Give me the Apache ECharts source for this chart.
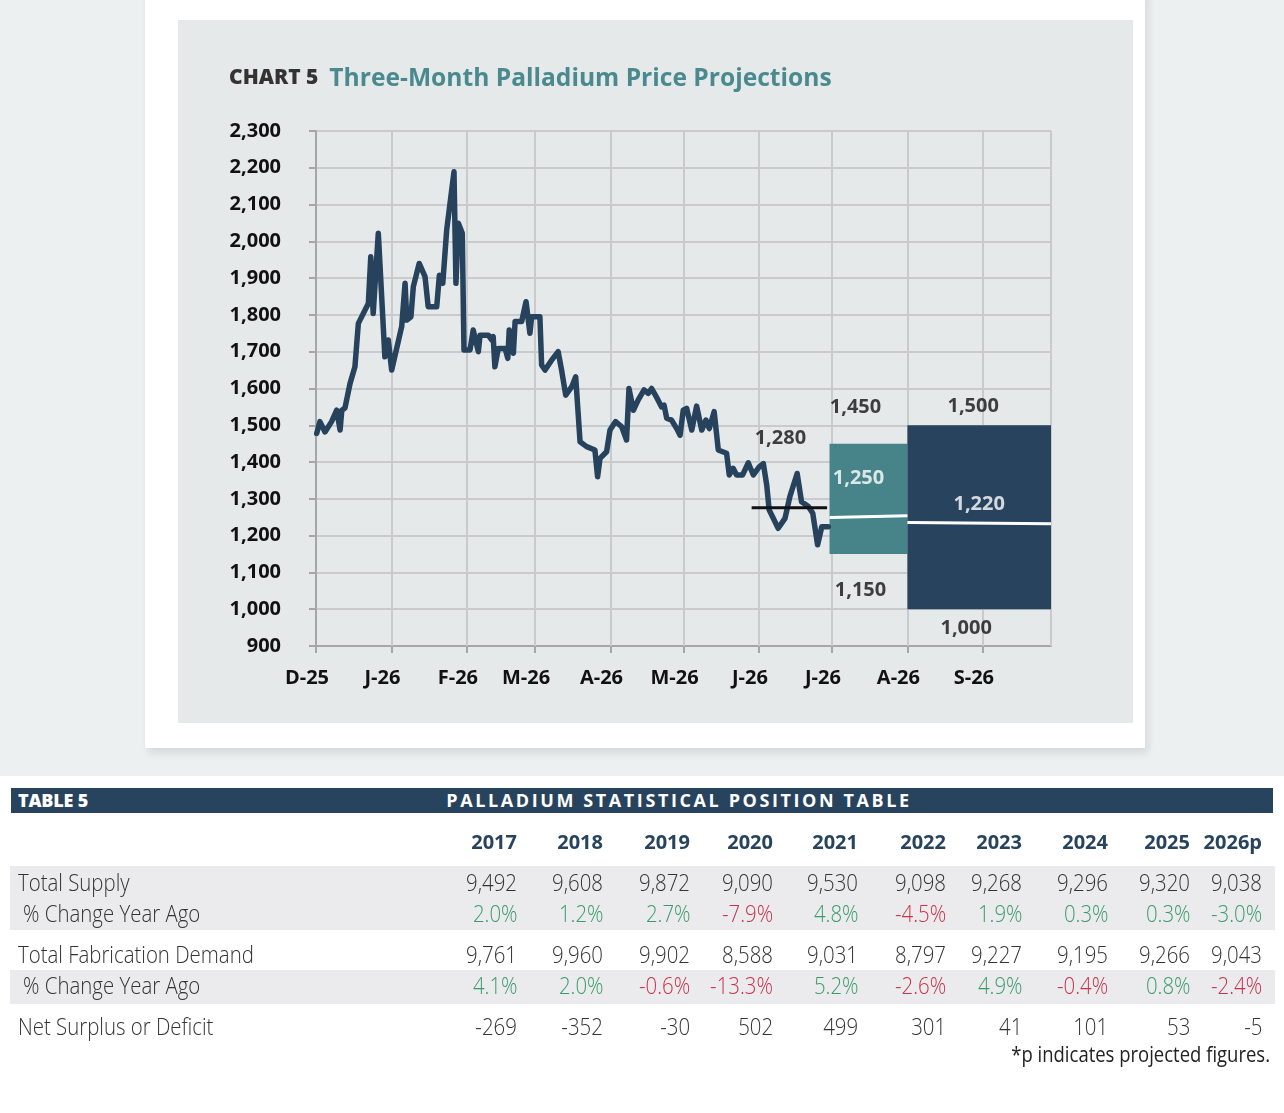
<!DOCTYPE html>
<html>
<head>
<meta charset="utf-8">
<script src="https://cdn.jsdelivr.net/npm/echarts@6/dist/echarts.min.js"></script>
<style>
  html,body{margin:0;padding:0;}
  body{width:1284px;height:1113px;position:relative;background:#ffffff;overflow:hidden;font-family:"Open Sans","Noto Sans",sans-serif;}
  .abs{position:absolute;}
  .t{position:absolute;white-space:nowrap;}
</style>
</head>
<body>
<div class="abs" style="left:0;top:0;width:1284px;height:776px;background:#edf0f1;"></div>
<div class="abs" style="left:145px;top:-10px;width:1000px;height:758px;background:#ffffff;box-shadow:3px 5px 8px rgba(0,0,0,0.10);"></div>
<div class="abs" style="left:178px;top:20px;width:955px;height:703px;background:#e6e9ea;"></div>
<div id="chart" class="abs" style="left:0;top:0;width:1284px;height:776px;"></div>
<div id="table" class="abs" style="left:0;top:0;width:1284px;height:1113px;"></div>
<script>
// ---------- Chart data ----------
const days = [0.3,1.6,3.7,6.4,8.5,9.9,10.6,11.9,14.0,16.0,17.4,21.5,22.5,23.5,25.6,28.3,29.7,31.1,35.2,36.6,37.3,39.0,40.0,42.4,44.8,46.1,49.6,50.7,52.1,53.7,56.7,57.5,58.5,60.1,60.8,63.3,64.6,66.7,67.4,70.8,72.2,72.8,73.5,74.9,77.7,78.8,79.4,81.1,81.8,84.5,86.3,87.9,88.6,92.0,92.7,94.1,96.8,99.5,100.9,102.6,105.1,106.7,108.5,111.2,114.6,115.7,116.7,119.4,120.8,123.1,125.6,127.6,128.6,130.4,132.4,134.8,136.5,137.9,140.2,142.0,143.0,144.1,146.1,148.2,149.6,150.9,152.3,154.4,156.4,158.5,160.2,161.6,163.6,165.3,167.1,168.7,169.8,171.4,172.8,175.3,177.6,179.7,182.1,183.8,185.2,186.2,189.9,192.7,194.7,197.7,199.5,202.3,204.1,206.1,207.8,210.5];
const prices = [1478,1510,1482,1510,1541,1487,1541,1547,1614,1659,1777,1831,1958,1804,2022,1686,1732,1650,1768,1886,1786,1795,1877,1940,1904,1822,1822,1908,1886,2031,2189,1886,2049,2022,1705,1705,1759,1700,1745,1745,1732,1741,1659,1709,1709,1682,1759,1696,1782,1782,1836,1750,1795,1795,1664,1650,1677,1700,1650,1582,1605,1632,1455,1442,1433,1360,1410,1428,1487,1510,1496,1460,1600,1541,1569,1596,1587,1600,1573,1550,1555,1519,1514,1491,1473,1541,1546,1487,1552,1487,1514,1491,1537,1433,1428,1424,1365,1383,1365,1365,1398,1365,1387,1396,1337,1270,1220,1247,1306,1369,1292,1279,1261,1175,1224,1224];

const monthTicks = [0,31,62,90,121,151,182,212,243,274];
const monthLabels = ['D-25','J-26','F-26','M-26','A-26','M-26','J-26','J-26','A-26','S-26'];
const xMax = 302;
const yMin = 900, yMax = 2300, yStep = 100;

// projection boxes
const boxStart = [211, 243];
const boxEnd = [243, 302];
const boxHigh = [1450, 1500];
const boxLow = [1150, 1000];
const boxMidStartVal = [1249, 1236];
const boxMidEndVal = [1254, 1232];
const boxMidLabel = ['1,250', '1,220'];
const boxHighLabel = ['1,450', '1,500'];
const boxLowLabel = ['1,150', '1,000'];
const boxColors = ['#478489', '#27435d'];

// last-price marker
const lastStart = 179, lastEnd = 210, lastLevel = 1276, lastLabel = '1,280';

// ---------- Table data ----------
const years = ['2017','2018','2019','2020','2021','2022','2023','2024','2025','2026p'];
const totalSupply = ['9,492','9,608','9,872','9,090','9,530','9,098','9,268','9,296','9,320','9,038'];
const supplyChange = [2.0,1.2,2.7,-7.9,4.8,-4.5,1.9,0.3,0.3,-3.0];
const fabDemand = ['9,761','9,960','9,902','8,588','9,031','8,797','9,227','9,195','9,266','9,043'];
const demandChange = [4.1,2.0,-0.6,-13.3,5.2,-2.6,4.9,-0.4,0.8,-2.4];
const netSurplus = ['-269','-352','-30','502','499','301','41','101','53','-5'];
// colour flags as printed (green / red)
const supplyChangeUp = [true,true,true,false,true,false,true,true,true,true];
const demandChangeUp = [true,true,false,false,true,false,true,false,true,false];

// ---------- Chart ----------
const chart = echarts.init(document.getElementById('chart'), null, {renderer:'canvas'});
const FONT = '"Open Sans","Noto Sans",sans-serif';
const gridColor = '#c8cacb';

const midX = boxStart.map((s,i)=>(s+boxEnd[i])/2);
const labelPts = [
  {value:[midX[0], boxHigh[0]], t:boxHighLabel[0], c:'#111', off:[-13,-36]},
  {value:[midX[1], boxHigh[1]], t:boxHighLabel[1], c:'#111', off:[-6,-19]},
  {value:[midX[0], boxLow[0]], t:boxLowLabel[0], c:'#111', off:[-8,36]},
  {value:[midX[1], boxLow[1]], t:boxLowLabel[1], c:'#111', off:[-13,19]},
  {value:[midX[0], 1250], t:boxMidLabel[0], c:'#fff', off:[-10,-39]},
  {value:[midX[1], 1220], t:boxMidLabel[1], c:'#fff', off:[0,-24]},
  {value:[(lastStart+lastEnd)/2, 1280], t:lastLabel, c:'#111', off:[-9,-68]}
];

const vLines = monthTicks.slice(1).concat([xMax]).map(v=>({xAxis:v}));

chart.setOption({
  animation:false,
  title:{
    left:224, top:61,
    text:'{a|CHART 5}{b|Three-Month Palladium Price Projections}',
    textStyle:{rich:{
      a:{fontFamily:FONT,fontWeight:800,fontSize:21,color:'#333333',padding:[0,11,0,0]},
      b:{fontFamily:FONT,fontWeight:'bold',fontSize:24.6,color:'#4a8a8e'}
    }}
  },
  grid:{left:316, right:1284-1051, top:131, bottom:776-646, containLabel:false},
  xAxis:{
    type:'value', min:0, max:xMax,
    splitLine:{show:false},
    axisLine:{show:true, lineStyle:{color:'#a4a6a7', width:2}},
    axisTick:{show:true, customValues:monthTicks, length:7, lineStyle:{color:'#a4a6a7', width:2}},
    axisLabel:{
      customValues:monthTicks,
      formatter:(v)=>{const i=monthTicks.indexOf(v); return i>=0?monthLabels[i]:'';},
      fontFamily:FONT, fontWeight:'bold', fontSize:20, color:'#111', margin:22,
      padding:[0,18,0,0]
    }
  },
  yAxis:{
    type:'value', min:yMin, max:yMax, interval:yStep,
    splitLine:{show:true, lineStyle:{color:gridColor, width:2}},
    axisLine:{show:true, lineStyle:{color:'#a4a6a7', width:2}},
    axisTick:{show:true, length:7, lineStyle:{color:'#a4a6a7', width:2}},
    axisLabel:{fontFamily:FONT, fontWeight:'bold', fontSize:20, color:'#111', margin:35,
      formatter:(v)=>v.toLocaleString('en-US')}
  },
  series:[
    {
      type:'line', data:[], z:1, silent:true,
      markLine:{silent:true, symbol:['none','none'], label:{show:false},
        lineStyle:{color:gridColor, width:2, type:'solid'}, data:vLines, animation:false}
    },
    {
      type:'custom', z:10, silent:true,
      data:boxStart.map((s,i)=>[s, boxEnd[i], boxLow[i], boxHigh[i], i]),
      encode:{x:[0,1], y:[2,3]},
      renderItem:(params, api)=>{
        const p1 = api.coord([api.value(0), api.value(3)]);
        const p2 = api.coord([api.value(1), api.value(2)]);
        return {type:'rect', shape:{x:p1[0], y:p1[1], width:p2[0]-p1[0], height:p2[1]-p1[1]},
          style:{fill:boxColors[api.value(4)]}};
      }
    },
    {
      type:'line', z:11, symbol:'none', silent:true,
      data:days.map((d,i)=>[d, prices[i]]),
      lineStyle:{color:'#26425c', width:5.5, join:'round', cap:'round'}
    },
    {
      type:'line', z:12, symbol:'none', silent:true,
      data:[[boxStart[0], boxMidStartVal[0]],[boxEnd[0], boxMidEndVal[0]]],
      lineStyle:{color:'#ffffff', width:3}
    },
    {
      type:'line', z:12, symbol:'none', silent:true,
      data:[[boxStart[1], boxMidStartVal[1]],[boxEnd[1], boxMidEndVal[1]]],
      lineStyle:{color:'#ffffff', width:3}
    },
    {
      type:'line', z:12, symbol:'none', silent:true,
      data:[[lastStart, lastLevel],[lastEnd, lastLevel]],
      lineStyle:{color:'#111111', width:3}
    },
    {
      type:'scatter', z:13, symbolSize:0, silent:true,
      data:labelPts.map(p=>({value:p.value, label:{show:true, position:'inside', formatter:p.t, color:p.c, offset:p.off}})),
      label:{show:true, fontFamily:FONT, fontWeight:'bold', fontSize:20}
    }
  ]
});

// ---------- Table ----------
const tbl = document.getElementById('table');
const colRight = [517,603,690,773,858,946,1022,1108,1190,1262];
function add(html, style){const d=document.createElement('div'); d.className='t'; d.innerHTML=html; Object.assign(d.style, style); tbl.appendChild(d); return d;}
function box(style){const d=document.createElement('div'); d.className='abs'; Object.assign(d.style, style); tbl.appendChild(d);}

box({left:'11px', top:'788px', width:'1262px', height:'25px', background:'#27435d'});
add('TABLE 5', {left:'18px', top:'788px', lineHeight:'25px', fontSize:'18px', fontWeight:'800', color:'#fff', letterSpacing:'-0.2px'});
add('PALLADIUM STATISTICAL POSITION TABLE', {left:'0px', width:'1358px', textAlign:'center', top:'788px', lineHeight:'25px', fontSize:'18px', fontWeight:'bold', color:'#fff', letterSpacing:'2.6px'});

box({left:'10px', top:'866px', width:'1265px', height:'64px', background:'#ebebed'});
box({left:'10px', top:'970px', width:'1265px', height:'34px', background:'#ebebed'});

const SX = 'scaleX(0.85)';
function rowText(center, label, indent, values, colors){
  const lh = 32;
  add(label, {left:(18+indent)+'px', top:(center-lh/2)+'px', lineHeight:lh+'px', fontSize:'24px', fontWeight:'300', color:'#333', transform:SX, transformOrigin:'left center'});
  values.forEach((v,i)=>{
    add(v, {right:(1284-colRight[i])+'px', top:(center-lh/2)+'px', lineHeight:lh+'px', fontSize:'24px', fontWeight:'300', color:colors?colors[i]:'#333', transform:SX, transformOrigin:'right center'});
  });
}
years.forEach((y,i)=>{
  add(y, {right:(1284-colRight[i])+'px', top:'827px', lineHeight:'30px', fontSize:'20px', fontWeight:'bold', color:'#27435d'});
});
const GREEN = '#3a9c6c', RED = '#c8324b';
const fmtPct = v => v.toFixed(1)+'%';
rowText(882, 'Total Supply', 0, totalSupply);
rowText(913, '% Change Year Ago', 5, supplyChange.map(fmtPct), supplyChangeUp.map(u=>u?GREEN:RED));
rowText(954, 'Total Fabrication Demand', 0, fabDemand);
rowText(985, '% Change Year Ago', 5, demandChange.map(fmtPct), demandChangeUp.map(u=>u?GREEN:RED));
rowText(1026, 'Net Surplus or Deficit', 0, netSurplus);
add('*p indicates projected figures.', {right:'14px', top:'1038px', lineHeight:'30px', fontSize:'22px', color:'#222', transform:'scaleX(0.84)', transformOrigin:'right center'});
</script>
</body>
</html>
